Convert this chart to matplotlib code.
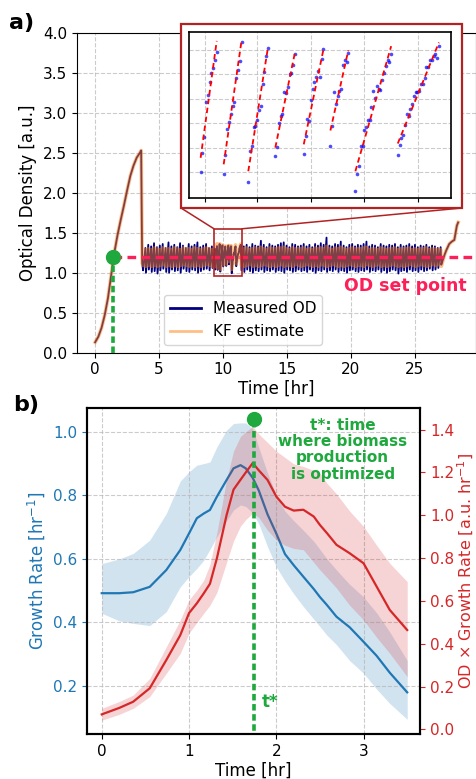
import numpy as np
import matplotlib
matplotlib.use("Agg")
import matplotlib.pyplot as plt
from matplotlib.patches import Rectangle, ConnectionPatch

# ---------------------------------------------------------------
# data, panel a) : OD of the turbidostat run
# ---------------------------------------------------------------
# batch growth before the controller switches on
growth_t = [0.0, 0.25, 0.5, 0.75, 1.0, 1.25, 1.5, 1.75, 2.0, 2.25, 2.5, 2.75, 3.0, 3.25, 3.5, 3.6, 3.68]
growth_od = [0.13, 0.20, 0.31, 0.47, 0.68, 0.97, 1.25, 1.47, 1.66, 1.84, 2.03, 2.21, 2.34, 2.44, 2.50, 2.53, 1.12]

# dilution cycles before the zoom window (trough / peak per cycle)
a_od_lo = [1.03, 1.00, 1.04, 1.01, 1.02, 0.99, 1.03, 1.05, 1.01, 1.00, 1.04, 1.02, 1.03,
           1.00, 1.05, 1.02, 1.01, 1.04, 1.03, 1.00, 1.02, 1.04, 1.05, 1.03, 1.06]
a_od_hi = [1.31, 1.35, 1.33, 1.37, 1.32, 1.34, 1.36, 1.31, 1.38, 1.33, 1.35, 1.32, 1.37,
           1.34, 1.31, 1.36, 1.33, 1.35, 1.38, 1.32, 1.34, 1.36, 1.31, 1.33, 1.30]
a_kf_lo = [1.09, 1.08, 1.09, 1.08, 1.09, 1.08, 1.09, 1.10, 1.08, 1.09, 1.08, 1.09, 1.08,
           1.09, 1.10, 1.09, 1.08, 1.09, 1.08, 1.09, 1.08, 1.09, 1.10, 1.09, 1.08]
a_kf_hi = [1.29, 1.30, 1.29, 1.31, 1.30, 1.29, 1.31, 1.30, 1.30, 1.29, 1.31, 1.30, 1.29,
           1.31, 1.30, 1.30, 1.29, 1.31, 1.30, 1.29, 1.30, 1.31, 1.30, 1.29, 1.30]

# zoom window: measured samples of each dilution cycle
sample_dt = 0.0149
cycle_start = [9.397, 9.589, 9.794, 10.019, 10.256, 10.478, 10.686, 11.039]
cycle_od = [
    [1.040, 1.087, 1.126, 1.211, 1.230, 1.260, 1.284, 1.296, 1.316, 1.334],
    [1.036, 1.082, 1.146, 1.163, 1.183, 1.202, 1.213, 1.271, 1.290, 1.312, 1.360],
    [1.015, 1.091, 1.104, 1.151, 1.154, 1.167, 1.193, 1.203, 1.257, 1.286, 1.326, 1.344],
    [1.079, 1.101, 1.161, 1.177, 1.183, 1.236, 1.233, 1.249, 1.280, 1.284, 1.304, 1.329],
    [1.085, 1.128, 1.170, 1.165, 1.216, 1.243, 1.261, 1.274, 1.289, 1.274, 1.317, 1.341],
    [1.105, 1.152, 1.237, 1.206, 1.226, 1.239, 1.245, 1.304, 1.315, 1.309, 1.333],
    [0.993, 1.036, 1.055, 1.105, 1.105, 1.143, 1.151, 1.168, 1.168, 1.200, 1.238, 1.223,
     1.251, 1.245, 1.241, 1.267, 1.284, 1.300, 1.316, 1.311, 1.331],
    [1.082, 1.106, 1.123, 1.132, 1.156, 1.183, 1.177, 1.196, 1.208, 1.227, 1.237, 1.237,
     1.238, 1.256, 1.257, 1.272, 1.298, 1.298, 1.315, 1.315, 1.326, 1.329, 1.321, 1.349],
]
# linear fits of each cycle (value at first / last sample)
fit_lo = [1.075, 1.059, 1.042, 1.100, 1.108, 1.142, 1.042, 1.110]
fit_hi = [1.362, 1.363, 1.346, 1.334, 1.341, 1.339, 1.349, 1.358]

# dilution cycles after the zoom window
b_od_lo = [1.03, 1.01, 1.04, 1.02, 1.00, 1.03, 1.02, 1.04, 1.01, 1.03,
           1.02, 1.04, 1.01, 1.03, 1.02, 1.00, 1.04, 1.03, 1.01, 1.02,
           1.04, 1.02, 1.03, 1.01, 1.04, 1.02, 1.00, 1.03, 1.02, 1.04,
           1.01, 1.03, 1.02, 1.04, 1.01, 1.03, 1.02, 1.00, 1.03, 1.04,
           1.02, 1.01, 1.03, 1.02, 1.04, 1.01, 1.03, 1.02, 1.04, 1.01,
           1.03, 1.00, 1.02, 1.04, 1.03, 0.99, 1.02, 1.03, 1.01, 1.04,
           1.02, 1.03, 1.01, 1.04, 1.02, 1.03, 1.05, 1.03, 1.04, 1.06]
b_od_hi = [1.33, 1.35, 1.32, 1.36, 1.34, 1.33, 1.40, 1.35, 1.32, 1.36,
           1.34, 1.33, 1.35, 1.37, 1.38, 1.34, 1.32, 1.36, 1.35, 1.33,
           1.34, 1.36, 1.33, 1.35, 1.32, 1.36, 1.34, 1.37, 1.35, 1.44,
           1.34, 1.33, 1.36, 1.35, 1.39, 1.34, 1.32, 1.35, 1.36, 1.33,
           1.35, 1.34, 1.36, 1.39, 1.33, 1.35, 1.34, 1.32, 1.36, 1.34,
           1.33, 1.35, 1.34, 1.36, 1.32, 1.35, 1.33, 1.34, 1.36, 1.33,
           1.35, 1.32, 1.34, 1.33, 1.35, 1.32, 1.34, 1.33, 1.31, 1.32]
b_kf_lo = [1.09, 1.08, 1.09, 1.10, 1.08, 1.09, 1.08, 1.09, 1.10, 1.09,
           1.08, 1.09, 1.08, 1.09, 1.10, 1.08, 1.09, 1.09, 1.08, 1.10,
           1.09, 1.08, 1.09, 1.10, 1.09, 1.08, 1.09, 1.08, 1.10, 1.09,
           1.08, 1.09, 1.10, 1.09, 1.08, 1.09, 1.08, 1.09, 1.10, 1.09,
           1.08, 1.09, 1.09, 1.08, 1.10, 1.09, 1.08, 1.09, 1.10, 1.08,
           1.09, 1.08, 1.09, 1.10, 1.09, 1.08, 1.09, 1.08, 1.09, 1.10,
           1.09, 1.08, 1.09, 1.10, 1.09, 1.08, 1.09, 1.10, 1.09, 1.10]
b_kf_hi = [1.30, 1.31, 1.29, 1.30, 1.31, 1.30, 1.32, 1.30, 1.29, 1.31,
           1.30, 1.30, 1.31, 1.31, 1.32, 1.30, 1.29, 1.31, 1.30, 1.30,
           1.30, 1.31, 1.29, 1.30, 1.29, 1.31, 1.30, 1.31, 1.30, 1.33,
           1.30, 1.29, 1.31, 1.30, 1.32, 1.30, 1.29, 1.30, 1.31, 1.30,
           1.30, 1.30, 1.31, 1.32, 1.29, 1.30, 1.30, 1.29, 1.31, 1.30,
           1.29, 1.30, 1.30, 1.31, 1.29, 1.30, 1.30, 1.30, 1.31, 1.29,
           1.30, 1.29, 1.30, 1.30, 1.31, 1.29, 1.30, 1.30, 1.29, 1.29]

# end of the run, controller off
tail_t = [27.08, 27.2, 27.35, 27.47, 27.7, 27.9, 28.1, 28.2, 28.3, 28.4]
tail_od = [1.10, 1.16, 1.23, 1.28, 1.36, 1.39, 1.41, 1.50, 1.59, 1.63]
tail_kf = [1.08, 1.15, 1.23, 1.28, 1.36, 1.39, 1.41, 1.50, 1.59, 1.63]

od_setpoint = 1.2
setpoint_time = 1.4

# ---------------------------------------------------------------
# data, panel b) : growth rate and OD x growth rate (mean, band)
# ---------------------------------------------------------------
gr_t = [0.0, 0.2, 0.36, 0.55, 0.74, 0.9, 1.0, 1.09, 1.17, 1.24, 1.32, 1.43, 1.51, 1.59, 1.65,
        1.73, 1.8, 1.9, 2.0, 2.1, 2.2, 2.31, 2.43, 2.5, 2.58, 2.69, 2.84, 3.0, 3.15, 3.3, 3.5]
gr_mean = [0.492, 0.492, 0.495, 0.512, 0.565, 0.628, 0.680, 0.728, 0.743, 0.754, 0.796, 0.848,
           0.885, 0.895, 0.885, 0.855, 0.815, 0.740, 0.680, 0.615, 0.580, 0.544, 0.505, 0.480,
           0.455, 0.418, 0.385, 0.339, 0.295, 0.242, 0.180]
gr_upper = [0.585, 0.600, 0.617, 0.659, 0.743, 0.845, 0.874, 0.895, 0.900, 0.905, 0.953, 1.005,
            1.026, 1.028, 1.028, 1.010, 0.950, 0.870, 0.800, 0.750, 0.720, 0.690, 0.655, 0.630,
            0.600, 0.565, 0.520, 0.480, 0.430, 0.370, 0.280]
gr_lower = [0.429, 0.405, 0.397, 0.390, 0.434, 0.512, 0.544, 0.570, 0.596, 0.630, 0.670, 0.720,
            0.754, 0.770, 0.765, 0.745, 0.710, 0.638, 0.575, 0.530, 0.490, 0.450, 0.410, 0.387,
            0.360, 0.330, 0.280, 0.240, 0.190, 0.145, 0.095]
prod_mean = [0.070, 0.100, 0.129, 0.192, 0.324, 0.440, 0.543, 0.589, 0.636, 0.680, 0.800, 1.000,
             1.120, 1.166, 1.200, 1.244, 1.210, 1.165, 1.088, 1.040, 1.022, 1.026, 0.994, 0.955,
             0.917, 0.862, 0.823, 0.776, 0.667, 0.558, 0.464]
prod_upper = [0.098, 0.130, 0.160, 0.238, 0.386, 0.511, 0.605, 0.650, 0.698, 0.770, 0.920, 1.166,
              1.300, 1.369, 1.390, 1.415, 1.380, 1.340, 1.300, 1.270, 1.240, 1.228, 1.210, 1.197,
              1.150, 1.100, 1.020, 0.948, 0.860, 0.776, 0.690]
prod_lower = [0.043, 0.070, 0.098, 0.153, 0.262, 0.355, 0.449, 0.500, 0.543, 0.580, 0.640, 0.780,
              0.880, 0.950, 0.980, 1.010, 0.990, 0.930, 0.885, 0.860, 0.845, 0.839, 0.780, 0.745,
              0.710, 0.660, 0.580, 0.511, 0.430, 0.355, 0.246]
t_star = 1.74
t_star_prod = 1.45

# ---------------------------------------------------------------
# build the OD traces
# ---------------------------------------------------------------
def sawtooth(starts, lo, hi, rise):
    t, v = [], []
    for s, a, b in zip(starts, lo, hi):
        t += [s, s + rise]
        v += [a, b]
    return t, v

a_start = np.linspace(3.75, 9.18, len(a_od_lo))
b_start = np.linspace(11.45, 26.85, len(b_od_lo))
rise = 0.18

win_t, win_od, kf_win_t, kf_win = [], [], [], []
for s, vals, f0, f1 in zip(cycle_start, cycle_od, fit_lo, fit_hi):
    ts = s + sample_dt * np.arange(len(vals))
    win_t += list(ts)
    win_od += vals
    kf_win_t += [ts[0], ts[-1]]
    kf_win += [f0, f1]

ta, va = sawtooth(a_start, a_od_lo, a_od_hi, rise)
tb, vb = sawtooth(b_start, b_od_lo, b_od_hi, rise)
meas_t = np.concatenate([growth_t, ta, win_t, tb, tail_t])
meas_od = np.concatenate([growth_od, va, win_od, vb, tail_od])

ka_t, ka = sawtooth(a_start, a_kf_lo, a_kf_hi, rise)
kb_t, kb = sawtooth(b_start, b_kf_lo, b_kf_hi, rise)
kf_t = np.concatenate([growth_t, ka_t, kf_win_t, kb_t, tail_t])
kf_od = np.concatenate([growth_od, ka, kf_win, kb, tail_kf])

# ---------------------------------------------------------------
# figure
# ---------------------------------------------------------------
green = '#1fa83d'
sp_red = '#fd1f57'
box_red = '#b22222'
grid_kw = dict(linestyle='--', color='#b5b5b5', alpha=0.7, linewidth=0.8)

fig = plt.figure(figsize=(4.77, 7.79), dpi=100)

# ! panel a)
ax = fig.add_axes([0.1614, 0.5473, 0.8366, 0.4103])
ax.plot(meas_t, meas_od, color='navy', lw=1.3, label='Measured OD')
ax.plot(kf_t, kf_od, color='tab:orange', alpha=0.5, lw=2.6, label='KF estimate')
ax.plot([setpoint_time, 31], [od_setpoint, od_setpoint], color=sp_red, lw=2.4,
        linestyle=(0, (2.6, 1.6)), zorder=4)
ax.plot([setpoint_time, setpoint_time], [0, od_setpoint], color=green, lw=2.6,
        linestyle=(0, (1.8, 1.0)), zorder=4)
ax.plot(setpoint_time, od_setpoint, 'o', color=green, ms=10, zorder=5)
ax.text(24.3, 0.83, 'OD set point', color=sp_red, fontsize=12.5, fontweight='bold',
        ha='center', va='center')

ax.set_xlim(-1.42, 29.8)
ax.set_ylim(0, 4.0)
ax.set_xticks([0, 5, 10, 15, 20, 25])
ax.set_yticks(np.arange(0, 4.01, 0.5))
ax.tick_params(labelsize=11)
ax.set_xlabel('Time [hr]', fontsize=12, labelpad=2)
ax.set_ylabel('Optical Density [a.u.]', fontsize=12)
ax.grid(True, **grid_kw)
leg = ax.legend(loc='lower left', bbox_to_anchor=(0.218, 0.024), borderaxespad=0, fontsize=11)
for h in leg.get_lines():
    h.set_linewidth(2.0)

# zoom window on the main axes
win_x0, win_x1 = 9.30, 11.48
win_y0, win_y1 = 0.96, 1.55
ax.add_patch(Rectangle((win_x0, win_y0), win_x1 - win_x0, win_y1 - win_y0,
                       fill=False, edgecolor=box_red, lw=1.2, zorder=6))

# white framed box that holds the inset
box = [0.3795, 0.7330, 0.5891, 0.2362]
fig.patches.append(Rectangle((box[0], box[1]), box[2], box[3], transform=fig.transFigure,
                             facecolor='white', edgecolor=box_red, lw=1.6, zorder=1))
for xa, xb in [(win_x0, box[0]), (win_x1, box[0] + box[2])]:
    con = ConnectionPatch(xyA=(xa, win_y1), coordsA=ax.transData,
                          xyB=(xb, box[1]), coordsB=fig.transFigure,
                          color=box_red, lw=1.1, zorder=2)
    fig.add_artist(con)

axin = fig.add_axes([0.3962, 0.7462, 0.5487, 0.2123])
axin.set_zorder(3)
axin.plot(win_t, win_od, 'o', color='blue', ms=2.6, alpha=0.7, markeredgewidth=0)
for s, vals, f0, f1 in zip(cycle_start, cycle_od, fit_lo, fit_hi):
    axin.plot([s, s + sample_dt * (len(vals) - 1)], [f0, f1], color='red', lw=1.3,
              linestyle=(0, (3, 2)))
axin.set_xlim(win_x0, win_x1)
axin.set_ylim(0.977, 1.383)
axin.set_xticks([9.43, 9.87, 10.32, 10.76, 11.21])
axin.set_yticks([1.04, 1.10, 1.16, 1.22, 1.28, 1.34])
axin.tick_params(labelbottom=False, labelleft=False, left=False, length=3)
axin.grid(True, **grid_kw)
for s in axin.spines.values():
    s.set_linewidth(1.2)

# ! panel b)
bx = fig.add_axes([0.1818, 0.0574, 0.6993, 0.4185])
bx.fill_between(gr_t, gr_lower, gr_upper, color='tab:blue', alpha=0.2, lw=0)
bx.plot(gr_t, gr_mean, color='tab:blue', lw=1.6)
bx.set_xlim(-0.172, 3.65)
bx.set_ylim(0.048, 1.074)
bx.set_xticks([0, 1, 2, 3])
bx.set_yticks([0.2, 0.4, 0.6, 0.8, 1.0])
bx.tick_params(axis='x', labelsize=11)
bx.tick_params(axis='y', labelsize=11, colors='tab:blue')
bx.set_xlabel('Time [hr]', fontsize=12, labelpad=2)
bx.set_ylabel('Growth Rate [hr$^{-1}$]', fontsize=12, color='tab:blue')
bx.grid(True, **grid_kw)

bx2 = bx.twinx()
bx2.fill_between(gr_t, prod_lower, prod_upper, color='tab:red', alpha=0.2, lw=0)
bx2.plot(gr_t, prod_mean, color='tab:red', lw=1.6)
bx2.plot([t_star, t_star], [-0.1, t_star_prod], color=green, lw=2.6,
         linestyle=(0, (1.8, 1.0)), zorder=4)
bx2.plot(t_star, t_star_prod, 'o', color=green, ms=10, zorder=5)
bx2.text(1.83, 0.13, 't*', color=green, fontsize=12, fontweight='bold', ha='left', va='center')
bx2.text(2.76, 1.455, 't*: time\nwhere biomass\nproduction\nis optimized', color=green,
         fontsize=11, fontweight='bold', ha='center', va='top', linespacing=1.1)
bx2.set_ylim(-0.023, 1.50)
bx2.set_yticks(np.arange(0, 1.41, 0.2))
bx2.tick_params(axis='y', labelsize=11, colors='tab:red')
bx2.set_ylabel('OD \u00d7 Growth Rate [a.u. hr$^{-1}$]', fontsize=11.5, color='tab:red',
               labelpad=1)
for a in (bx, bx2):
    for s in a.spines.values():
        s.set_linewidth(1.5)

fig.text(0.018, 0.970, 'a)', fontsize=16, fontweight='bold', va='center')
fig.text(0.028, 0.480, 'b)', fontsize=16, fontweight='bold', va='center')

fig.savefig('out.png', dpi=100)
